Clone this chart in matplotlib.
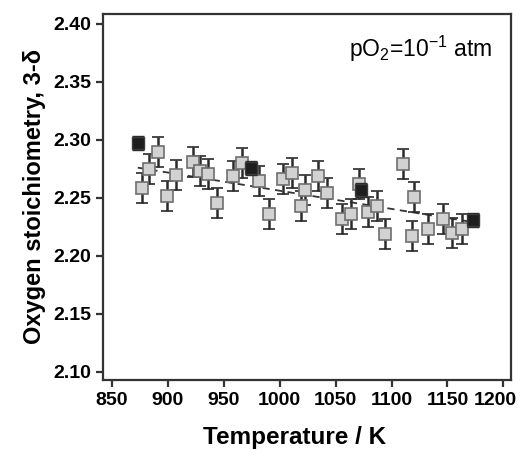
import matplotlib.pyplot as plt
import matplotlib.transforms as mtransforms
import numpy as np

plt.rcParams["font.family"] = ["Liberation Sans", "DejaVu Sans"]
plt.rcParams["mathtext.fontset"] = "custom"
plt.rcParams["mathtext.rm"] = "Liberation Sans"
plt.rcParams["mathtext.default"] = "regular"

# grey points: measured stoichiometry
temp_grey = [877, 883, 891, 899, 907, 922, 929, 936, 944, 958, 966, 981, 990,
             1003, 1011, 1019, 1023, 1034, 1042, 1056, 1064, 1071, 1079, 1087,
             1094, 1110, 1120, 1118, 1133, 1146, 1154, 1163]
delta_grey = [2.2585, 2.2749, 2.2896, 2.2516, 2.2697, 2.2810, 2.2732, 2.2706,
              2.2455, 2.2689, 2.2801, 2.2645, 2.2360, 2.2663, 2.2715, 2.2429,
              2.2567, 2.2689, 2.2542, 2.2317, 2.2360, 2.2619, 2.2377, 2.2429,
              2.2187, 2.2792, 2.2507, 2.2170, 2.2230, 2.2317, 2.2196, 2.2230]
err_grey = 0.013

# dark points
temp_dark = [873, 974, 1073, 1173]
delta_dark = [2.2974, 2.2758, 2.2567, 2.2308]
err_dark = 0.006

# dashed trend
trend_t = [873, 1173]
trend_v = [2.276, 2.229]

fig = plt.figure(figsize=(5.21, 4.5), dpi=100)
ax = fig.add_axes([0.198, 0.156, 0.783, 0.813])

ax.plot(trend_t, trend_v, ls=(0, (4, 3)), color="#333333", lw=1.3, zorder=1)
ax.errorbar(temp_grey, delta_grey, yerr=err_grey, fmt="s", ms=9,
            mfc="#d2d2d2", mec="#6e6e6e", mew=1.2, ecolor="#2a2a2a",
            elinewidth=1.8, capsize=4.5, capthick=1.8, zorder=2)
ax.errorbar(temp_dark, delta_dark, yerr=err_dark, fmt="s", ms=9,
            mfc="#1e1e1e", mec="#3a3a3a", mew=1.0, ecolor="#2a2a2a",
            elinewidth=1.8, capsize=4.5, capthick=1.8, zorder=3)

ax.set_xlim(842, 1207)
ax.set_ylim(2.093, 2.4086)
ax.set_xticks(np.arange(850, 1201, 50))
ax.set_yticks(np.arange(2.10, 2.401, 0.05))
ax.set_yticklabels([f"{v:.2f}" for v in np.arange(2.10, 2.401, 0.05)])

for s in ax.spines.values():
    s.set_linewidth(1.6)
    s.set_color("#333333")
ax.tick_params(direction="out", length=5, width=1.6, color="#333333",
               labelsize=14)
for lab in ax.get_xticklabels() + ax.get_yticklabels():
    lab.set_fontweight("bold")
# keep the last x label inside the figure
last = ax.get_xticklabels()[-1]
last.set_transform(last.get_transform() +
                   mtransforms.ScaledTranslation(-8 / 100, 0, fig.dpi_scale_trans))

ax.set_xlabel("Temperature / K", fontsize=17.5, fontweight="bold")
ax.xaxis.set_label_coords(0.47, -0.125)
ax.set_ylabel("Oxygen stoichiometry, 3-δ", fontsize=17, fontweight="bold",
              labelpad=5)
ax.text(0.953, 0.905, r"pO$_2$=10$^{-1}$ atm", transform=ax.transAxes,
        ha="right", va="center", fontsize=16.5)

fig.savefig("out.png", dpi=100)
